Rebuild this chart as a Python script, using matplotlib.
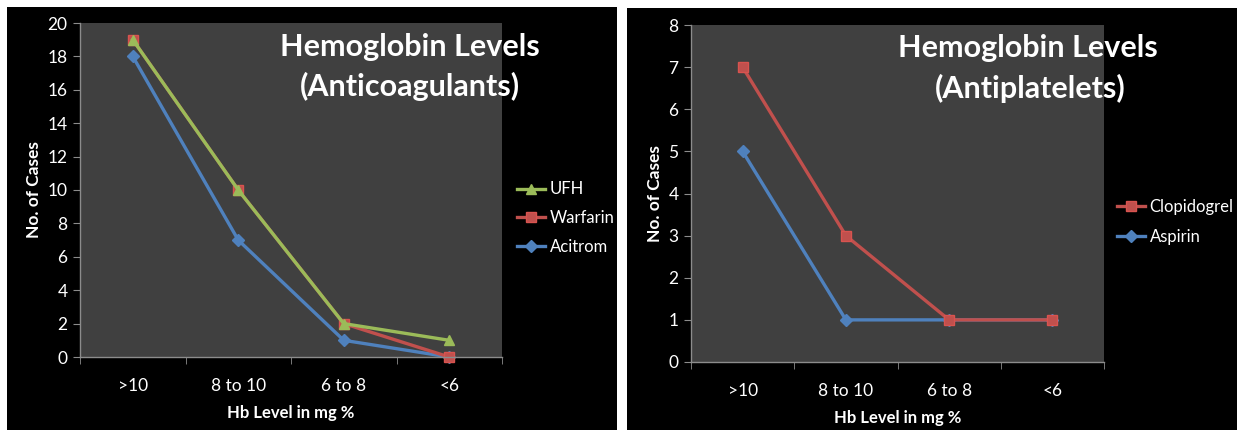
import matplotlib.pyplot as plt
from matplotlib.patches import Rectangle

plt.rcParams['font.family'] = ['Lato', 'DejaVu Sans']

# Hb level groups and case counts
categories = [">10", "8 to 10", "6 to 8", "<6"]

ufh = [19, 10, 2, 1]
warfarin = [19, 10, 2, 0]
acitrom = [18, 7, 1, 0]

clopidogrel = [7, 3, 1, 1]
aspirin = [5, 1, 1, 1]

W, H = 1237, 432
GREEN = "#9BBB59"
RED = "#C0504D"
BLUE = "#4F81BD"
PLOT_BG = "#404040"
AXIS = "#8C8C8C"


def fx(x):
    return x / W


def fy(y):
    return 1 - y / H


fig = plt.figure(figsize=(W / 100, H / 100), dpi=100)
fig.patch.set_facecolor("white")

# black chart panels
for x0, y0, x1, y1 in [(7, 7, 617, 430), (627, 8, 1237, 430)]:
    fig.add_artist(Rectangle((fx(x0), fy(y1)), fx(x1 - x0), (y1 - y0) / H,
                             transform=fig.transFigure, facecolor="black",
                             edgecolor="none", zorder=0))


def style_axes(ax, ymax):
    ax.set_facecolor(PLOT_BG)
    for s in ["top", "right"]:
        ax.spines[s].set_visible(False)
    for s in ["left", "bottom"]:
        ax.spines[s].set_color(AXIS)
        ax.spines[s].set_linewidth(1)
    ax.set_xlim(-0.5, 3.5)
    ax.set_ylim(0, ymax)
    ax.set_xticks(range(4))
    ax.set_xticklabels(categories)
    ax.set_xticks([-0.5, 0.5, 1.5, 2.5, 3.5], minor=True)
    ax.tick_params(axis="x", which="major", length=0, pad=15, labelsize=12.5, colors="white")
    ax.tick_params(axis="x", which="minor", length=5, color=AXIS)
    ax.tick_params(axis="y", length=5, color=AXIS, labelcolor="white", labelsize=12.5, pad=4)
    ax.set_xlabel("Hb Level in mg %", color="white", fontsize=12, fontweight="bold", labelpad=8)
    ax.set_ylabel("No. of Cases", color="white", fontsize=12.5, fontweight="bold", labelpad=4)
    ax.set_zorder(2)


line_kw = dict(linewidth=2.4, markersize=7, clip_on=False)
leg_kw = dict(loc="center left", frameon=False, labelcolor="white", fontsize=12,
              handlelength=1.7, handletextpad=0.25, borderpad=0, borderaxespad=0)

# anticoagulants
ax1 = fig.add_axes([fx(80), fy(357), fx(502 - 80), (357 - 23) / H])
style_axes(ax1, 20)
ax1.set_yticks(range(0, 21, 2))
ax1.plot(range(4), acitrom, color=BLUE, marker="D", markersize=6, label="Acitrom",
         linewidth=2.4, clip_on=False)
ax1.plot(range(4), warfarin, color=RED, marker="s", label="Warfarin",
         markeredgecolor="#D9534F", **line_kw)
ax1.plot(range(4), ufh, color=GREEN, marker="^", label="UFH", **line_kw)
h, l = ax1.get_legend_handles_labels()
fig.legend(h[::-1], l[::-1], bbox_to_anchor=(fx(517), fy(218)), labelspacing=0.75, **leg_kw)
fig.text(fx(410), fy(47), "Hemoglobin Levels", color="white", fontsize=22,
         fontweight="bold", ha="center", va="center", zorder=5)
fig.text(fx(410), fy(86), "(Anticoagulants)", color="white", fontsize=22,
         fontweight="bold", ha="center", va="center", zorder=5)

# antiplatelets
ax2 = fig.add_axes([fx(691), fy(362), fx(1104 - 691), (362 - 25) / H])
style_axes(ax2, 8)
ax2.set_yticks(range(0, 9))
ax2.plot(range(4), aspirin, color=BLUE, marker="D", markersize=6, label="Aspirin",
         linewidth=2.4, clip_on=False)
ax2.plot(range(4), clopidogrel, color=RED, marker="s", label="Clopidogrel",
         markeredgecolor="#D9534F", **line_kw)
h, l = ax2.get_legend_handles_labels()
fig.legend(h[::-1], l[::-1], bbox_to_anchor=(fx(1117), fy(222)), labelspacing=0.85, **leg_kw)
fig.text(fx(1028), fy(48), "Hemoglobin Levels", color="white", fontsize=22,
         fontweight="bold", ha="center", va="center", zorder=5)
fig.text(fx(1030), fy(88), "(Antiplatelets)", color="white", fontsize=22,
         fontweight="bold", ha="center", va="center", zorder=5)

fig.savefig("out.png", dpi=100, facecolor=fig.get_facecolor())
